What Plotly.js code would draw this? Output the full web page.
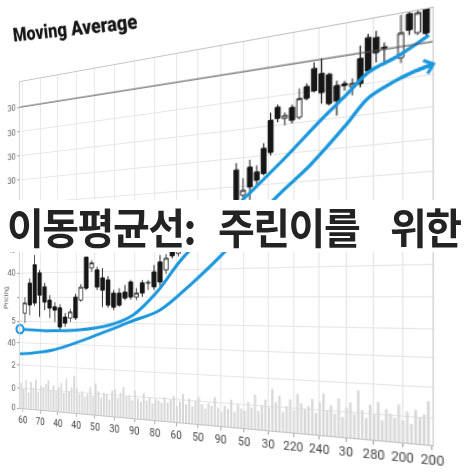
<!DOCTYPE html>
<html>
<head>
<meta charset="utf-8">
<script src="https://cdn.plot.ly/plotly-3.0.1.min.js"></script>
<style>
  html, body { margin: 0; padding: 0; background: #fff; }
  #stage { position: relative; width: 472px; height: 472px; overflow: hidden; background: #fff; }
  #chart { position: absolute; left: 0; top: 0; width: 472px; height: 472px; transform-origin: 0 0; }
  #banner {
    position: absolute; left: 4px; top: 200px; width: 468px; height: 52px; background: #fff;
  }
  #banner span {
    position: absolute; top: 0; color: #232323;
    font-family: "Noto Sans CJK KR", "Noto Sans", sans-serif; font-weight: 700;
    font-size: 40px; letter-spacing: -1.5px;
    line-height: 52px; white-space: nowrap;
    transform: scaleY(1.06); transform-origin: 0 50%;
  }
</style>
</head>
<body>
<div id="stage">
  <div id="chart"></div>
  <div id="banner"><span style="left:3px">이동평균선:</span><span style="left:214px">주린이를</span><span style="left:386px">위한</span></div>
</div>
<script>
// Trading days (one day skipped near the end)
const day = [0,1,2,3,4,5,6,7,8,9,10,11,12,13,14,15,16,17,18,19,20,21,22,23,24,25,26,27,28,29,
  30,31,32,33,34,35,36,37,38,39,40,41,42,43,44,45,46,47,48,49,50,51,52,53,54,55,56,57,59,60,61,62];

const open = [29.1,38.3,43.8,41.3,37.1,33.1,31.1,30.8,28.1,27.8,34.0,33.1,45.6,42.4,41.8,39.5,38.9,35.1,35.1,35.4,
  38.2,34.0,37.9,37.8,40.9,43.6,41.4,47.0,45.8,49.5,48.0,52.4,51.0,55.0,53.4,57.0,56.0,67.0,60.3,67.4,
  66.0,71.9,78.8,81.9,78.9,81.4,78.7,86.1,90.3,88.8,88.3,85.3,85.5,84.6,91.0,95.7,95.4,92.8,89.7,99.6,94.9,100.8];
const high = [34.0,39.7,46.8,42.2,38.3,34.6,32.5,31.9,29.3,30.5,34.9,37.8,45.8,44.7,42.7,42.3,40.0,36.0,36.5,37.4,
  38.8,36.5,38.7,38.7,42.8,45.5,45.7,47.8,49.3,50.4,51.6,53.0,54.2,55.8,56.6,57.8,58.5,68.8,64.7,69.3,
  67.7,73.2,80.8,82.6,80.4,82.1,85.9,86.9,91.8,92.5,88.7,86.5,86.2,86.5,94.1,96.6,97.0,93.9,99.7,100.1,100.2,101.0];
const low = [26.1,28.5,31.3,28.0,30.1,27.7,26.6,24.2,25.2,26.7,27.3,32.6,36.0,41.3,36.0,31.1,30.9,30.3,31.2,33.1,
  33.2,33.1,34.0,35.9,35.9,37.0,40.3,44.5,45.0,46.5,47.3,48.8,50.2,51.5,52.8,53.8,55.2,57.9,57.7,58.9,
  62.6,65.0,69.9,78.1,77.1,77.4,78.2,82.7,84.4,81.4,80.7,78.0,83.8,82.4,84.1,87.4,89.5,89.1,88.5,94.7,94.4,94.0];
const close = [32.2,31.6,32.2,34.6,32.5,30.7,30.1,25.1,26.3,29.6,27.9,36.9,36.6,43.9,36.9,36.0,31.7,31.1,31.7,33.7,
  34.0,35.1,35.1,38.0,36.8,38.1,44.6,45.2,48.6,47.2,50.8,49.6,53.5,52.2,55.9,54.6,57.8,59.2,61.6,62.3,
  63.9,65.5,70.7,79.1,79.6,78.2,83.4,83.2,84.8,84.1,81.2,81.6,85.1,85.3,85.0,87.8,91.8,92.6,95.5,95.9,99.5,94.5];

// Short and long moving averages
const ma1Day = [-1.0, 5.0, 10.8, 16.3, 20.4, 24.5, 28.7, 38.7, 44.0, 48.9, 52.2, 55.1, 58.4, 62.3];
const ma1    = [24.2, 23.9, 24.4, 26.0, 28.9, 35.4, 44.5, 60.3, 68.9, 77.4, 82.7, 87.5, 90.0, 93.9];
const ma2Day = [-1.0, 5.6, 14.5, 19.9, 25.0, 29.9, 34.5, 43.1, 47.5, 52.2, 55.0, 58.1, 60.5, 63.1];
const ma2    = [16.6, 18.2, 23.4, 27.0, 30.4, 37.2, 44.5, 59.7, 66.6, 75.5, 81.3, 84.3, 86.0, 87.3];

// Half-day volume bars
const volume = [62,48,70,40,66,52,71,44,58,55,64,72,50,61,48,57,68,45,79,50,
  60,86,58,46,52,40,47,63,44,72,55,41,52,49,37,58,62,43,55,68,47,
  51,40,62,45,38,58,42,50,36,47,44,39,52,41,48,56,35,45,62,40,
  53,37,49,58,43,34,46,41,60,38,30,43,37,57,32,48,40,36,55,44,71,38,50,62,47,
  85,58,72,40,52,66,45,78,60,48,55,70,43,64,82,50,60,44,74,39,
  57,68,46,92,55,40,66,48,72,38,60,52,45,70,41,58,36,62,48,55,80];

const resistance = 92.3;
const xTickText = ['60','70','40','40','50','30','90','80','60','50','90','50','30','220','240','30','280','200','200'];
const yTickVals = [92.3, 84.7, 77.3, 69.9, 62.6, 55.5, 48.5, 41.4, 34.0, 26.7, 19.9, 13.2, 6.1, 0];
const yTickText = ['30','30','30','30','30','30','40','40','','5','40','2','0','0'];

const BLUE = '#1b97dd';
const xRange = [-1, 62.72];
const xTickVals = xTickText.map((_, k) => -0.4 + k * (62.7 + 0.4) / (xTickText.length - 1));
const volDay = volume.map((_, k) => -0.75 + 0.5 * k);

const traces = [
  { type: 'bar', x: volDay, y: volume, yaxis: 'y2', marker: { color: '#d7d7d7' }, hoverinfo: 'skip' },
  {
    type: 'candlestick', x: day, open: open, high: high, low: low, close: close,
    increasing: { line: { color: '#3a3a3a', width: 1 }, fillcolor: '#ffffff' },
    decreasing: { line: { color: '#161616', width: 1 }, fillcolor: '#161616' },
    whiskerwidth: 0
  },
  { type: 'scatter', mode: 'lines', x: ma2Day, y: ma2, line: { color: BLUE, width: 3, shape: 'spline', smoothing: 1 } },
  { type: 'scatter', mode: 'lines', x: ma1Day, y: ma1, line: { color: BLUE, width: 3, shape: 'spline', smoothing: 1 } },
  { type: 'scatter', mode: 'markers', x: [ma1Day[0]], y: [ma1[0]], cliponaxis: false,
    marker: { size: 9, color: '#ffffff', line: { color: BLUE, width: 2.5 } } }
];

const n2 = ma2Day.length;
const margin = { l: 40, r: 40, t: 70, b: 50, pad: 0 };
const titlePos = { x: 0.161, y: 1.132 };

const layout = {
  width: 472, height: 472, margin: margin,
  paper_bgcolor: '#ffffff', plot_bgcolor: '#ffffff',
  showlegend: false, bargap: 0.35, boxgap: 0.2, boxgroupgap: 0.15,
  font: { family: 'Roboto, Arial, sans-serif', color: '#444' },
  xaxis: {
    range: xRange, tickmode: 'array', tickvals: xTickVals, ticktext: xTickText,
    showgrid: true, gridcolor: '#e6e6e6', gridwidth: 1,
    showline: true, linecolor: '#c4c4c4', mirror: true, zeroline: false,
    ticks: 'outside', ticklen: 3, tickcolor: '#aaaaaa',
    tickfont: { family: 'Roboto, Arial, sans-serif', size: 10, color: '#444' },
    rangeslider: { visible: false }
  },
  yaxis: {
    range: [0, 100], tickmode: 'array', tickvals: yTickVals, ticktext: yTickText,
    showgrid: true, gridcolor: '#e6e6e6', gridwidth: 1,
    showline: true, linecolor: '#d0d0d0', mirror: true, zeroline: false,
    ticks: 'outside', ticklen: 3, tickcolor: '#999999',
    tickfont: { family: 'Roboto, Arial, sans-serif', size: 9, color: '#555' }
  },
  yaxis2: { overlaying: 'y', range: [0, 800], visible: false },
  shapes: [
    { type: 'line', xref: 'paper', x0: 0, x1: 1, yref: 'y', y0: resistance, y1: resistance,
      line: { color: '#555555', width: 1 } }
  ],
  annotations: [
    { text: 'Moving Average', xref: 'paper', yref: 'paper', x: titlePos.x, y: titlePos.y,
      xanchor: 'center', yanchor: 'middle', showarrow: false,
      font: { family: 'Roboto, Arial, sans-serif', size: 17, weight: 900, color: '#161616' } },
    { text: 'Pricing', xref: 'paper', yref: 'y', x: -0.046, y: 34, textangle: -90,
      xanchor: 'center', yanchor: 'middle', showarrow: false,
      font: { family: 'Roboto, Arial, sans-serif', size: 8, color: '#555' } },
    { text: '', xref: 'x', yref: 'y', axref: 'x', ayref: 'y',
      x: ma2Day[n2 - 1], y: ma2[n2 - 1], ax: ma2Day[n2 - 2], ay: ma2[n2 - 2],
      showarrow: true, arrowhead: 4, arrowsize: 0.75, arrowwidth: 3, arrowcolor: BLUE }
  ]
};

// Projective map of the flat chart onto a receding plane
function solveHomography(src, dst) {
  const A = [], b = [];
  for (let i = 0; i < 4; i++) {
    const [x, y] = src[i], [X, Y] = dst[i];
    A.push([x, y, 1, 0, 0, 0, -x * X, -y * X]); b.push(X);
    A.push([0, 0, 0, x, y, 1, -x * Y, -y * Y]); b.push(Y);
  }
  const n = 8;
  for (let c = 0; c < n; c++) {
    let p = c;
    for (let r = c + 1; r < n; r++) if (Math.abs(A[r][c]) > Math.abs(A[p][c])) p = r;
    [A[c], A[p]] = [A[p], A[c]]; [b[c], b[p]] = [b[p], b[c]];
    for (let r = c + 1; r < n; r++) {
      const f = A[r][c] / A[c][c];
      for (let k = c; k < n; k++) A[r][k] -= f * A[c][k];
      b[r] -= f * b[c];
    }
  }
  const h = new Array(n);
  for (let r = n - 1; r >= 0; r--) {
    let s = b[r];
    for (let k = r + 1; k < n; k++) s -= A[r][k] * h[k];
    h[r] = s / A[r][r];
  }
  return h;
}

function mapPoint(h, x, y) {
  const w = h[6] * x + h[7] * y + 1;
  return [(h[0] * x + h[1] * y + h[2]) / w, (h[3] * x + h[4] * y + h[5]) / w];
}

// Pre-shear the heading so that, after projection, it reads as a plain tilted line of text
function straightenTitle(h) {
  const node = document.querySelector('#chart .annotation[data-index="0"]');
  if (!node) return;
  const plotW = 472 - margin.l - margin.r, plotH = 472 - margin.t - margin.b;
  const cx = margin.l + titlePos.x * plotW, cy = margin.t + (1 - titlePos.y) * plotH;
  const e = 0.5;
  const p0 = mapPoint(h, cx, cy), px = mapPoint(h, cx + e, cy), py = mapPoint(h, cx, cy + e);
  const J = [[(px[0] - p0[0]) / e, (py[0] - p0[0]) / e], [(px[1] - p0[1]) / e, (py[1] - p0[1]) / e]];
  const ang = 6.4 * Math.PI / 180, stretch = 1.18;
  const M = [[Math.cos(ang), Math.sin(ang) * stretch], [-Math.sin(ang), Math.cos(ang) * stretch]];
  const det = J[0][0] * J[1][1] - J[0][1] * J[1][0];
  const Ji = [[J[1][1] / det, -J[0][1] / det], [-J[1][0] / det, J[0][0] / det]];
  const D = [
    [Ji[0][0] * M[0][0] + Ji[0][1] * M[1][0], Ji[0][0] * M[0][1] + Ji[0][1] * M[1][1]],
    [Ji[1][0] * M[0][0] + Ji[1][1] * M[1][0], Ji[1][0] * M[0][1] + Ji[1][1] * M[1][1]]
  ];
  const a = D[0][0], b = D[1][0], c = D[0][1], d = D[1][1];
  const tx = cx - (a * cx + c * cy), ty = cy - (b * cx + d * cy);
  node.setAttribute('transform', `matrix(${a},${b},${c},${d},${tx},${ty})`);
}

const plotL = margin.l, plotR = 472 - margin.r, plotT = margin.t, plotB = 472 - margin.b;
const plotCorners = [[plotL, plotT], [plotR, plotT], [plotR, plotB], [plotL, plotB]];
const viewCorners = [[20, 82], [432.5, 8], [432.5, 445], [20, 408]];

Plotly.newPlot('chart', traces, layout, { staticPlot: true, displayModeBar: false }).then(() => {
  const h = solveHomography(plotCorners, viewCorners);
  straightenTitle(h);
  document.getElementById('chart').style.transform =
    `matrix3d(${h[0]},${h[3]},0,${h[6]},${h[1]},${h[4]},0,${h[7]},0,0,1,0,${h[2]},${h[5]},0,1)`;
});
</script>
</body>
</html>
